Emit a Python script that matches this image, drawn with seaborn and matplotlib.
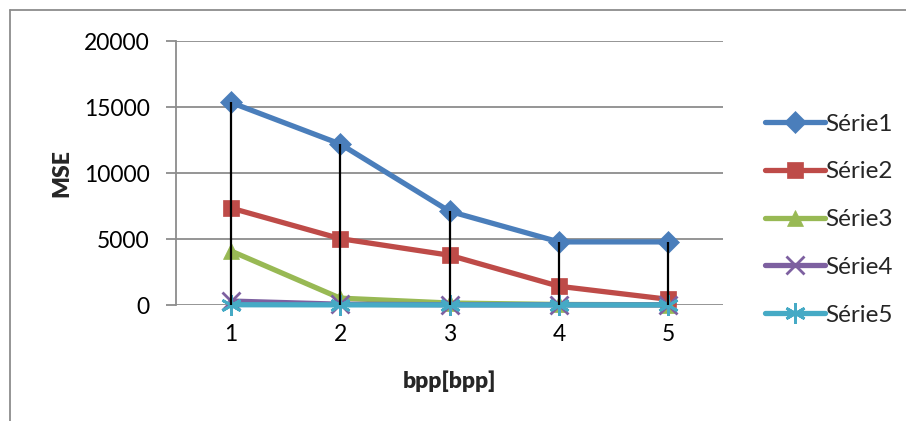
import matplotlib
matplotlib.use("Agg")
import matplotlib.pyplot as plt
import seaborn as sns
import pandas as pd
from matplotlib.lines import Line2D

# ---- data ----
bpp = [1, 2, 3, 4, 5]
serie1 = [15350, 12200, 7100, 4780, 4780]
serie2 = [7350, 5030, 3770, 1420, 430]
serie3 = [4100, 520, 150, 40, 20]
serie4 = [300, 60, 20, 10, 10]
serie5 = [20, 10, 5, 5, 5]
series_names = ["Série1", "Série2", "Série3", "Série4", "Série5"]
yticks = [0, 5000, 10000, 15000, 20000]

colors = ["#4A7EBB", "#BE4B48", "#98B954", "#7D60A0", "#46AAC5"]
markers = ["D", "s", "^", "x", (6, 2, 0)]
msizes = [11, 12, 12, 13, 15]

sns.set_theme(style="white")
plt.rcParams["font.family"] = ["Lato", "DejaVu Sans"]
FS = 16.5

rows = []
for name, vals in zip(series_names, [serie1, serie2, serie3, serie4, serie5]):
    for x, v in zip(bpp, vals):
        rows.append({"bpp": x, "MSE": v, "serie": name})
df = pd.DataFrame(rows)

fig = plt.figure(figsize=(9.06, 4.21), dpi=100)
ax = fig.add_axes([176/906, 1-305/421, (723-176)/906, (305-41)/421])

for i, name in enumerate(series_names):
    sub = df[df.serie == name]
    sns.lineplot(data=sub, x="bpp", y="MSE", ax=ax, color=colors[i], lw=3.8,
                 marker=markers[i], markersize=msizes[i], markeredgewidth=2 if i >= 3 else 0.5,
                 markeredgecolor=colors[i], zorder=3 + i * 0.1, legend=False,
                 clip_on=False)

# high-low lines
allvals = [serie1, serie2, serie3, serie4, serie5]
lows = [min(v[j] for v in allvals) for j in range(len(bpp))]
highs = [max(v[j] for v in allvals) for j in range(len(bpp))]
ax.vlines(bpp, lows, highs, color="black", lw=1.6, zorder=10)

ax.set_xlim(0.5, 5.5)
ax.set_ylim(0, 20000)
ax.set_yticks(yticks)
ax.set_xticks(bpp)
ax.set_yticklabels([str(t) for t in yticks], fontsize=FS, color="black")
ax.set_xticklabels([str(b) for b in bpp], fontsize=FS, color="black")
ax.grid(axis="y", color="#8C8C8C", lw=1.3)
for s in ["top", "right", "bottom"]:
    ax.spines[s].set_visible(False)
ax.spines["left"].set_color("#8C8C8C")
ax.spines["left"].set_linewidth(1.3)
ax.tick_params(axis="y", direction="out", length=7, width=1.3, color="#8C8C8C", left=True, pad=12)
ax.tick_params(axis="x", length=0, pad=14)
ax.set_xlabel("bpp[bpp]", fontsize=FS, fontweight="heavy", labelpad=18)
ax.set_ylabel("MSE", fontsize=FS, fontweight="heavy", labelpad=8)
ax.set_axisbelow(True)

# legend
handles = [Line2D([0], [0], color=colors[i], lw=3.8, marker=markers[i], markersize=msizes[i],
                  markeredgewidth=2 if i >= 3 else 0.5, markeredgecolor=colors[i])
           for i in range(5)]
leg = fig.legend(handles, series_names, loc="upper left", bbox_to_anchor=(755/906, 1-104/421),
                 frameon=False, fontsize=17.5, handlelength=2.5, handletextpad=0.0,
                 labelspacing=1.1, borderaxespad=0)

# outer chart frame
fig.add_artist(Line2D([10/906, 10/906], [0, 1-10/421], color="#8C8C8C", lw=1.3, transform=fig.transFigure))
fig.add_artist(Line2D([10/906, 1], [1-10/421, 1-10/421], color="#8C8C8C", lw=1.3, transform=fig.transFigure))

fig.savefig("out.png", dpi=100)
